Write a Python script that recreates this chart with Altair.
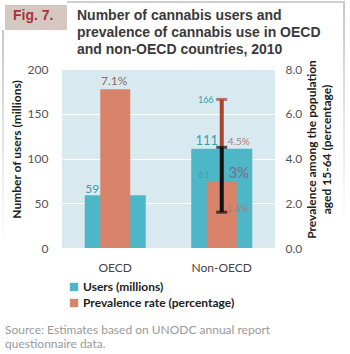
import altair as alt
import pandas as pd

# ---------------- data ----------------
categories = ["OECD", "Non-OECD"]
users = [59, 111]
prevalence = [7.1, 3.0]
users_text = ["59", "111"]
prevalence_text = ["7.1%", "3%"]
series_names = ["Users (millions)", "Prevalence rate (percentage)"]

range_category = ["Non-OECD"]
users_best = [111]
users_high = [166]
users_low = [61]
users_high_text = ["166"]
users_low_text = ["61"]
prev_low = [1.6]
prev_high = [4.5]
prev_low_text = ["1.6%"]
prev_high_text = ["4.5%"]

users_ticks = [0, 50, 100, 150, 200]
prev_ticks = [0, 2, 4, 6, 8]

fig_label = "Fig. 7."
title_lines = ["Number of cannabis users and",
               "prevalence of cannabis use in OECD",
               "and non-OECD countries, 2010"]
source_lines = ["Source: Estimates based on UNODC annual report",
                "questionnaire data."]
left_title = "Number of users (millions)"
right_title = ["Prevalence among the population", "aged 15-64 (percentage)"]

# ---------------- style ----------------
TEAL = "#4db7c7"
ORANGE = "#d9836b"
RED = "#a8452f"
BG = "#d8eaef"
TEAL_TXT = "#3a9fb2"
PL, PT, W, H = 62, 69, 213, 179

users_df = pd.DataFrame({"category": categories, "users": users,
                         "text": users_text, "series": series_names[0]})
prev_df = pd.DataFrame({"category": categories, "prevalence": prevalence,
                        "text": prevalence_text, "series": series_names[1]})
urange_df = pd.DataFrame({"category": range_category, "best": users_best,
                          "high": users_high, "low": users_low,
                          "high_text": users_high_text, "low_text": users_low_text})
prange_df = pd.DataFrame({"category": range_category, "low": prev_low, "high": prev_high,
                          "low_text": prev_low_text, "high_text": prev_high_text})

X = alt.X("category:N", sort=categories,
          scale=alt.Scale(paddingInner=0, paddingOuter=0),
          axis=alt.Axis(title=None, labelAngle=0, labelPadding=14, ticks=False,
                        domain=False, labelFont="Lato", labelFontSize=12,
                        labelColor="#444"))
uscale = alt.Scale(domain=[0, 200], nice=False)
pscale = alt.Scale(domain=[0, 8], nice=False)

UAXIS = alt.Axis(
    orient="left", values=users_ticks, title=left_title, grid=True,
    gridColor="white", gridWidth=1, domain=False, ticks=False,
    labelPadding=14, labelFont="Lato", labelFontSize=12, labelColor="#555",
    titleFont="Lato", titleFontSize=12, titleFontWeight="bold",
    titleColor="#222", titleAngle=270, titleX=-51, titleY=80,
    titleAlign="center", titleBaseline="top")
PAXIS = alt.Axis(
    orient="right", values=prev_ticks, format=".1f", title=right_title,
    grid=False, domain=False, ticks=False, labelPadding=10,
    labelFont="Lato", labelFontSize=12, labelColor="#555",
    titleFont="Lato", titleFontSize=12, titleFontWeight="bold",
    titleColor="#222", titleAngle=270, titleX=31, titleY=80,
    titleAlign="center", titleBaseline="top", titleLineHeight=15)

def UY(field):
    return alt.Y(field, scale=uscale, axis=UAXIS)

def PY(field):
    return alt.Y(field, scale=pscale, axis=PAXIS)

COLOR = alt.Color("series:N",
                  scale=alt.Scale(domain=series_names, range=[TEAL, ORANGE]),
                  legend=alt.Legend(title=None, orient="none", legendX=6, legendY=212,
                                    symbolType="square", symbolSize=70,
                                    symbolStrokeWidth=0, labelFont="Lato",
                                    labelFontSize=12, labelFontWeight="bold",
                                    labelColor="#222", rowPadding=4, labelOffset=3))

# ---- users scale layer ----
teal_bars = alt.Chart(users_df).mark_bar(size=61).encode(
    x=X, y=UY("users:Q"), color=COLOR)

def users_label(cat, dx, dy, size):
    return alt.Chart(users_df).transform_filter(
        alt.datum.category == cat).mark_text(
        dx=dx, dy=dy, fontSize=size, font="Lato", color=TEAL_TXT,
        align="center", baseline="alphabetic").encode(
        x=X, y=UY("users:Q"), text="text:N")

red_rule = alt.Chart(urange_df).mark_rule(strokeWidth=4, color=RED).encode(
    x=X, y=UY("best:Q"), y2="high:Q")
red_cap = alt.Chart(urange_df).mark_tick(size=11, thickness=3, color=RED).encode(
    x=X, y=UY("high:Q"))
high_txt = alt.Chart(urange_df).mark_text(
    dx=-16, dy=1, fontSize=9, font="Lato", color=TEAL_TXT).encode(
    x=X, y=UY("high:Q"), text="high_text:N")
low_txt = alt.Chart(urange_df).mark_text(
    dx=-18, dy=-18, fontSize=10, font="Lato", color=TEAL_TXT).encode(
    x=X, y=UY("low:Q"), text="low_text:N")

users_layer = alt.layer(teal_bars, red_rule, red_cap,
                        users_label("OECD", -23, -2, 12),
                        users_label("Non-OECD", -15, -4, 13),
                        high_txt, low_txt)

# ---- prevalence scale layer ----
orange_bars = alt.Chart(prev_df).mark_bar(size=30).encode(
    x=X, y=PY("prevalence:Q"), color=COLOR)

def prev_label(cat, dx, dy, size, color):
    return alt.Chart(prev_df).transform_filter(
        alt.datum.category == cat).mark_text(
        dx=dx, dy=dy, fontSize=size, font="Lato", color=color,
        align="center", baseline="alphabetic").encode(
        x=X, y=PY("prevalence:Q"), text="text:N")

black_rule = alt.Chart(prange_df).mark_rule(strokeWidth=4, color="#111").encode(
    x=X, y=PY("low:Q"), y2="high:Q")
black_cap_lo = alt.Chart(prange_df).mark_tick(size=11, thickness=3, color="#111").encode(
    x=X, y=PY("low:Q"))
black_cap_hi = alt.Chart(prange_df).mark_tick(size=11, thickness=3, color="#111").encode(
    x=X, y=PY("high:Q"))
plo_txt = alt.Chart(prange_df).mark_text(
    dx=16, dy=0, fontSize=10, font="Lato", color="#b07878",
    baseline="alphabetic").encode(
    x=X, y=PY("low:Q"), text="low_text:N")
phi_txt = alt.Chart(prange_df).mark_text(
    dx=17, dy=-2, fontSize=10, font="Lato", color="#b07878",
    baseline="alphabetic").encode(
    x=X, y=PY("high:Q"), text="high_text:N")

prev_layer = alt.layer(orange_bars, black_rule, black_cap_lo, black_cap_hi,
                       prev_label("OECD", -1, -4, 12, "#8a6b62"),
                       prev_label("Non-OECD", 17, -3, 15, "#7b6a8c"),
                       plo_txt, phi_txt)

# ---- annotations (header, frame, source) ----
def ann_text(txt, x, y, **kw):
    return alt.Chart(pd.DataFrame({"t": [txt]})).mark_text(**kw).encode(
        x=alt.value(x - PL), y=alt.value(y - PT), text="t:N")

def ann_rect(x1, x2, y1, y2, fill):
    return alt.Chart(pd.DataFrame({"a": [0]})).mark_rect(color=fill).encode(
        x=alt.value(x1 - PL), x2=alt.value(x2 - PL),
        y=alt.value(y1 - PT), y2=alt.value(y2 - PT))

fade = alt.LinearGradient(gradient="linear", x1=0, y1=0, x2=0, y2=1,
                          stops=[alt.GradientStop(color="#c8c8c8", offset=0),
                                 alt.GradientStop(color="#ffffff", offset=1)])

annotations = [
    ann_rect(2, 4, 30, 245, fade),
    ann_rect(343, 345, 2, 225, fade),
    ann_rect(67, 345, 1, 3, "#cfcfcf"),
    ann_rect(5, 67, 5, 30, "#d7c7c1"),
    ann_text(fig_label, 13, 16, font="Liberation Sans", fontSize=14,
             fontWeight="bold", color="#a5343f", align="left", baseline="middle"),
]
for i, line in enumerate(title_lines):
    annotations.append(ann_text(line, 77, 16 + 17 * i, font="Liberation Sans",
                                fontSize=14, fontWeight="bold", color="#3a3a3a",
                                align="left", baseline="middle"))
for i, line in enumerate(source_lines):
    annotations.append(ann_text(line, 5, 330 + 14 * i, font="Lato", fontSize=12,
                                color="#9a9a9a", align="left", baseline="middle"))

chart = alt.layer(users_layer, prev_layer, *annotations).resolve_scale(
    y="independent"
).properties(
    width=W, height=H,
    autosize=alt.AutoSizeParams(type="none"),
    padding={"left": PL, "top": PT, "right": 350 - PL - W, "bottom": 354 - PT - H},
    background="white",
).configure_view(stroke=None, fill=BG)

chart.save("out.html", embed_options={"renderer": "svg", "actions": False})
